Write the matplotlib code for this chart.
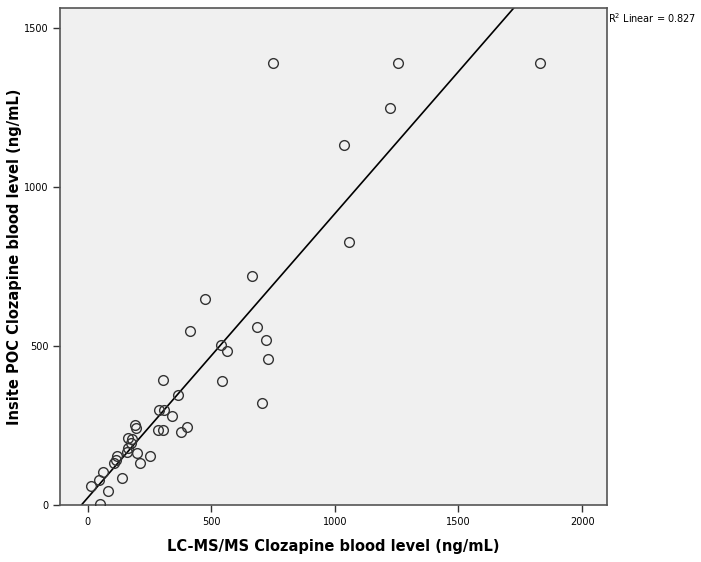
import numpy as np
import matplotlib
matplotlib.use("Agg")
import matplotlib.pyplot as plt

# LC-MS/MS (x) vs Insite POC (y), ng/mL
lcms = [750, 1257, 1828, 1224, 1035, 1059, 666, 476, 414, 685, 720, 731,
        538, 564, 544, 704, 306, 364, 289, 309, 341, 402, 283, 306, 379,
        193, 196, 164, 181, 174, 164, 158, 120, 113, 106, 201, 212, 252,
        63, 46, 12, 139, 84, 50]
poc = [1390, 1390, 1390, 1247, 1130, 828, 721, 647, 547, 558, 519, 458,
       503, 484, 389, 322, 393, 345, 298, 298, 279, 246, 236, 236, 229,
       252, 241, 212, 207, 194, 178, 168, 155, 142, 131, 164, 133, 155,
       105, 80, 60, 84, 45, 3]
r2_text = "R$^2$ Linear = 0.827"

x_ticks = [0, 500, 1000, 1500, 2000]
y_ticks = [0, 500, 1000, 1500]

x = np.array(lcms, dtype=float)
y = np.array(poc, dtype=float)
slope, intercept = np.polyfit(x, y, 1)

fig = plt.figure(figsize=(7.01, 5.62), dpi=100)
ax = fig.add_axes([0.0856, 0.1014, 0.78, 0.8838])
ax.set_facecolor("#f0f0f0")

ax.set_xlim(-112, 2100)
ax.set_ylim(0, 1561)

xx = np.array(ax.get_xlim())
ax.plot(xx, slope * xx + intercept, color="black", linewidth=1.2, zorder=2)
ax.plot(x, y, linestyle="none", marker="o", markersize=7,
        markerfacecolor="none", markeredgecolor="#333333",
        markeredgewidth=1.0, zorder=3)

ax.set_xticks(x_ticks)
ax.set_yticks(y_ticks)
ax.tick_params(direction="out", length=5, width=1, colors="#333333",
               labelsize=7, labelcolor="black")
for sp in ax.spines.values():
    sp.set_color("#555555")
    sp.set_linewidth(1.2)

ax.set_xlabel("LC-MS/MS Clozapine blood level (ng/mL)", fontsize=10.5,
              fontweight="bold", labelpad=9)
ax.set_ylabel("Insite POC Clozapine blood level (ng/mL)", fontsize=10.5,
              fontweight="bold")
ax.yaxis.set_label_coords(-0.07, 0.5)

fig.text(0.867, 0.968, r2_text, fontsize=7, ha="left", va="center")

fig.savefig("out.png", dpi=100)
